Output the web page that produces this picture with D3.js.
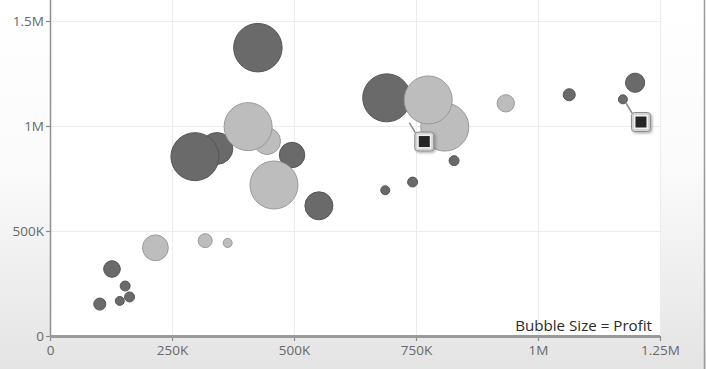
<!DOCTYPE html>
<html>
<head>
<meta charset="utf-8">
<script src="https://cdn.jsdelivr.net/npm/d3@7"></script>
<style>
  html, body { margin: 0; padding: 0; background: #fff; }
  svg { display: block; }
  text { font-family: "Open Sans", "Noto Sans", sans-serif; }
</style>
</head>
<body>
<svg id="chart" width="706" height="369"></svg>
<script>
// ---- data ----
const xTicks = [0, 250000, 500000, 750000, 1000000, 1250000];
const xTickLabels = ["0", "250K", "500K", "750K", "1M", "1.25M"];
const yTicks = [0, 500000, 1000000, 1500000];
const yTickLabels = ["0", "500K", "1M", "1.5M"];

// dark series
const darkSales  = [102000, 127000, 143000, 154000, 163000, 426000, 342000, 297000, 496000, 551000, 690000, 687000, 743000, 828000, 1064000, 1199000, 1174000];
const darkValue  = [152000, 319000, 167000, 238000, 186000, 1373000, 893000, 854000, 862000, 620000, 1134000, 694000, 733000, 835000, 1149000, 1206000, 1127000];
const darkProfit = [6300, 12000, 3500, 4300, 4300, 102000, 44000, 100000, 28000, 34000, 100000, 3500, 4300, 4300, 6300, 16000, 3500];

// light series
const lightSales  = [216000, 318000, 364000, 445000, 406000, 459000, 809000, 775000, 934000];
const lightValue  = [420000, 454000, 443000, 928000, 997000, 719000, 995000, 1124000, 1108000];
const lightProfit = [29000, 8500, 3500, 31000, 100000, 100000, 100000, 100000, 13000];

// callout markers
const markerSales = [767000, 1211000];
const markerValue = [926000, 1019000];

const legendText = "Bubble Size = Profit";

// ---- layout ----
const W = 706, H = 369;
const plot = { left: 50, top: 0, right: 660, bottom: 336 };

const svg = d3.select("#chart");
const defs = svg.append("defs");
const bg = defs.append("linearGradient").attr("id", "bg").attr("x1", 0).attr("y1", 0).attr("x2", 0).attr("y2", 1);
bg.append("stop").attr("offset", "0%").attr("stop-color", "#ffffff");
bg.append("stop").attr("offset", "45%").attr("stop-color", "#fbfbfb");
bg.append("stop").attr("offset", "100%").attr("stop-color", "#e4e4e4");

const flt = defs.append("filter").attr("id", "shadow").attr("x", "-30%").attr("y", "-30%").attr("width", "170%").attr("height", "170%");
flt.append("feDropShadow").attr("dx", 1.5).attr("dy", 1.5).attr("stdDeviation", 1.2).attr("flood-color", "#000").attr("flood-opacity", 0.3);

svg.append("rect").attr("x", 0).attr("y", 0).attr("width", W).attr("height", H).attr("fill", "url(#bg)");
svg.append("line").attr("x1", 704.5).attr("x2", 704.5).attr("y1", 0).attr("y2", H).attr("stroke", "#9a9a9a").attr("stroke-width", 1.5);

const x = d3.scaleLinear().domain([0, 1250000]).range([plot.left, plot.right]);
const y = d3.scaleLinear().domain([0, 1600000]).range([plot.bottom, plot.top]);
const r = d3.scaleSqrt().domain([0, 100000]).range([0, 24]);

// plot area
svg.append("rect").attr("x", plot.left).attr("y", plot.top)
  .attr("width", plot.right - plot.left).attr("height", plot.bottom - plot.top).attr("fill", "#fff");

// gridlines
svg.append("g").selectAll("line").data(xTicks.slice(1)).join("line")
  .attr("x1", d => Math.round(x(d)) + 0.5).attr("x2", d => Math.round(x(d)) + 0.5)
  .attr("y1", plot.top).attr("y2", plot.bottom)
  .attr("stroke", "#ececec").attr("stroke-width", 1);
svg.append("g").selectAll("line").data(yTicks.slice(1)).join("line")
  .attr("x1", plot.left).attr("x2", plot.right)
  .attr("y1", d => Math.round(y(d)) + 0.5).attr("y2", d => Math.round(y(d)) + 0.5)
  .attr("stroke", "#ececec").attr("stroke-width", 1);

// axes
const xAxis = d3.axisBottom(x).tickValues(xTicks).tickFormat((d, i) => xTickLabels[i]).tickSize(5).tickPadding(4);
const gx = svg.append("g").attr("transform", `translate(0,${plot.bottom})`).call(xAxis);
gx.select(".domain").remove();
gx.selectAll(".tick line").attr("stroke", "#8a8a8a").attr("stroke-width", 1.2);
gx.selectAll(".tick text").attr("fill", "#686868").attr("font-size", 13.5);

const yAxis = d3.axisLeft(y).tickValues(yTicks).tickFormat((d, i) => yTickLabels[i]).tickSize(4).tickPadding(2);
const gy = svg.append("g").attr("transform", `translate(${plot.left},0)`).call(yAxis);
gy.select(".domain").remove();
gy.selectAll(".tick line").attr("stroke", "#8a8a8a").attr("stroke-width", 1.2);
gy.selectAll(".tick text").attr("fill", "#686868").attr("font-size", 13.5).attr("dy", "0.36em");

svg.append("line").attr("x1", plot.left + 0.5).attr("x2", plot.left + 0.5)
  .attr("y1", plot.top).attr("y2", plot.bottom).attr("stroke", "#8f8f8f").attr("stroke-width", 1.5);
svg.append("line").attr("x1", plot.left).attr("x2", plot.right)
  .attr("y1", plot.bottom + 0.5).attr("y2", plot.bottom + 0.5).attr("stroke", "#9a9a9a").attr("stroke-width", 3);

// bubbles
const dark = darkSales.map((s, i) => ({ s, v: darkValue[i], p: darkProfit[i] }));
const light = lightSales.map((s, i) => ({ s, v: lightValue[i], p: lightProfit[i] }));

svg.append("g").selectAll("circle").data(dark).join("circle")
  .attr("cx", d => x(d.s)).attr("cy", d => y(d.v)).attr("r", d => r(d.p))
  .attr("fill", "#6a6a6a").attr("stroke", "#555").attr("stroke-width", 1);
svg.append("g").selectAll("circle").data(light).join("circle")
  .attr("cx", d => x(d.s)).attr("cy", d => y(d.v)).attr("r", d => r(d.p))
  .attr("fill", "#bdbdbd").attr("stroke", "#999").attr("stroke-width", 1);

// callout markers
const markers = markerSales.map((s, i) => ({ s, v: markerValue[i] }));
const mg = svg.append("g").selectAll("g").data(markers).join("g")
  .attr("transform", d => `translate(${x(d.s)},${y(d.v)})`);
mg.append("line").attr("x1", -9).attr("y1", -9).attr("x2", -15).attr("y2", -19)
  .attr("stroke", "#8a8a8a").attr("stroke-width", 1.5);
mg.append("rect").attr("x", -9.5).attr("y", -9.5).attr("width", 19).attr("height", 19).attr("rx", 3)
  .attr("fill", "#d4d4d4").attr("stroke", "#8c8c8c").attr("stroke-width", 1).attr("filter", "url(#shadow)");
mg.append("rect").attr("x", -7).attr("y", -7).attr("width", 14).attr("height", 14)
  .attr("fill", "#f2f2f2");
mg.append("rect").attr("x", -5.5).attr("y", -5.5).attr("width", 11).attr("height", 11)
  .attr("fill", "#262626");

// legend text, sized to match the reference width
const lt = svg.append("text").attr("x", plot.right - 8).attr("y", plot.bottom - 5)
  .attr("text-anchor", "end").attr("font-size", 13).attr("fill", "#2a2a2a").text(legendText);
const w0 = lt.node().getComputedTextLength();
lt.attr("font-size", Math.min(16, 13 * 137 / w0));
</script>
</body>
</html>
